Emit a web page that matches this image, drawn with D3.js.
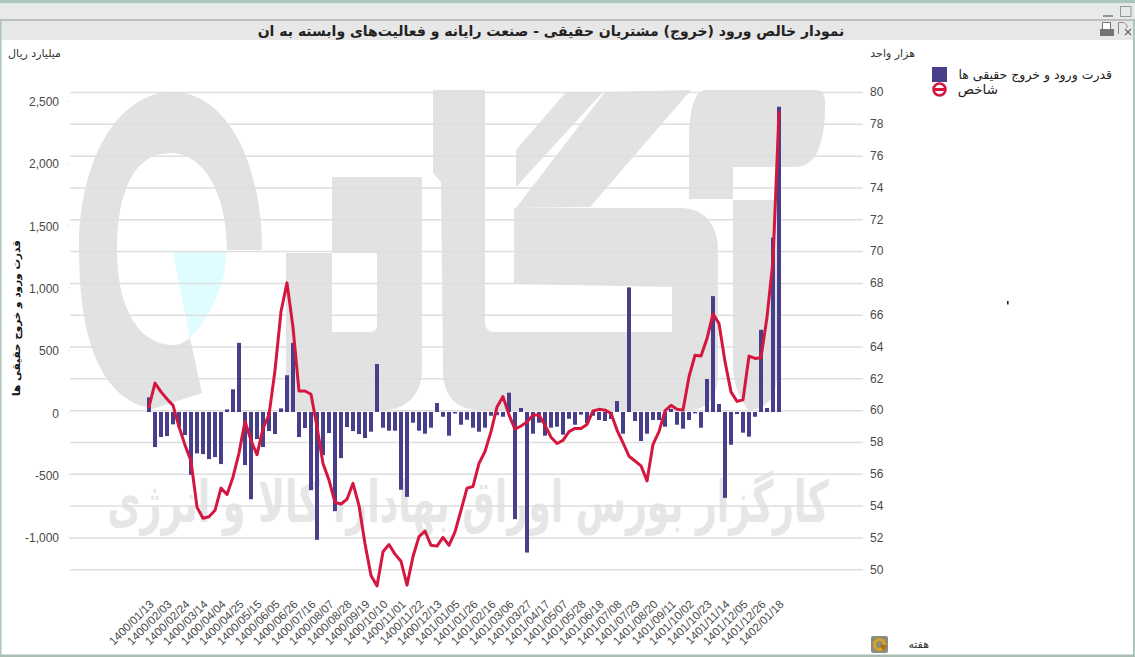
<!DOCTYPE html>
<html lang="fa">
<head>
<meta charset="utf-8">
<title>نمودار خالص ورود (خروج) مشتریان حقیقی</title>
<script src="https://cdnjs.cloudflare.com/ajax/libs/d3/7.8.5/d3.min.js"></script>
<style>
  html, body { margin: 0; padding: 0; background: #fff; overflow: hidden; }
  svg { display: block; }
  text { font-family: "DejaVu Sans", sans-serif; }
  .tick text { font-family: "Liberation Sans", sans-serif; fill: #4a4a4a; }
</style>
</head>
<body>
<svg id="chart" width="1135" height="657"></svg>
<script>
// Tick labels along the week axis, one for every third week
const weekLabels = [
  "1400/01/13","1400/02/03","1400/02/24","1400/03/14","1400/04/04","1400/04/25",
  "1400/05/15","1400/06/05","1400/06/26","1400/07/16","1400/08/07","1400/08/28",
  "1400/09/19","1400/10/10","1400/11/01","1400/11/22","1400/12/13","1401/01/05",
  "1401/01/26","1401/02/16","1401/03/06","1401/03/27","1401/04/17","1401/05/07",
  "1401/05/28","1401/06/18","1401/07/08","1401/07/29","1401/08/20","1401/09/11",
  "1401/10/02","1401/10/23","1401/11/14","1401/12/05","1401/12/26","1402/01/18"
];

// Weekly net inflow of individual investors, billion rials
const netFlow = [
  118,-281,-201,-193,-99,-120,-185,-504,-332,-338,-378,-362,-418,21,182,555,-426,-700,
  -217,-281,-153,-177,29,295,555,-201,-129,-627,-1026,-346,-169,-796,-370,-121,-153,-177,
  -209,-158,385,-126,-150,-150,-624,-681,-86,-150,-174,-126,72,-38,-190,-12,-102,-62,
  -126,-158,-126,-30,-25,-38,155,-860,32,-1128,-174,-86,-190,-126,-118,-182,-54,-102,
  -21,-90,-30,-64,-72,-56,88,-174,1000,-72,-233,-174,-64,-64,-118,25,-102,-134,
  -64,-11,-126,265,930,64,-689,-263,-16,-166,-198,-38,660,32,1400,2450
];

// Weekly index level, thousand units
const indexLevel = [
  60.2,61.7,61.15,60.7,60.3,58.95,57.8,56.8,53.9,53.2,53.3,53.7,55.1,54.7,55.8,57.3,59.3,58.1,
  57.2,58.85,59.7,62.5,66.2,68,65.2,61.2,61.2,61,58.95,56.65,55.6,54.2,54.1,54.4,55.4,54,
  51.6,49.6,48.95,51.1,51.55,50.95,50.5,49,50.8,52.05,52.4,51.5,51.45,52,51.5,52.35,53.7,55.1,
  55.2,56.65,57.4,58.65,60.2,60.85,59.7,58.8,59,59.25,59.7,59.7,59.05,58.3,57.9,58.1,58.65,58.85,
  58.85,59.1,59.95,60.05,60,59.8,58.75,57.95,57.1,56.8,56.5,55.55,57.85,58.65,59.95,60.3,
  60.05,60,62.1,63.45,63.4,64.5,66.05,65.45,63.05,61.15,60.55,60.65,63.4,63.25,63.3,65.85,69.4,78.75
];

// Axis tick values
const flowTicks = [-1000,-500,0,500,1000,1500,2000,2500];
const indexTicks = [50,52,54,56,58,60,62,64,66,68,70,72,74,76,78,80];

// Texts
const chartTitle = "نمودار خالص ورود (خروج) مشتریان حقیقی - صنعت رایانه و فعالیت‌های وابسته به ان";
const flowName = "قدرت ورود و خروج حقیقی ها";
const indexName = "شاخص";
const flowUnit = "میلیارد ریال";
const indexUnit = "هزار واحد";
const xName = "هفته";
const brandLine = "کارگزار بورس اوراق بهادار، کالا و انرژی";

const BAR_COLOR = "#473e8c";
const LINE_COLOR = "#d5173f";
const MARK_GREY = "#e2e2e2";

const svg = d3.select("#chart");

// Panel frame and header bands
const frame = svg.append("g");
frame.append("rect").attr("x",0).attr("y",0).attr("width",1135).attr("height",3.5).attr("fill","#adc6bb");
frame.append("rect").attr("x",0).attr("y",3.5).attr("width",1135).attr("height",15.5).attr("fill","#e8eae8");
frame.append("rect").attr("x",0).attr("y",19).attr("width",1135).attr("height",2).attr("fill","#bcbfbc");
frame.append("rect").attr("x",1).attr("y",21).attr("width",1132).attr("height",19).attr("fill","#e7e7e7");
frame.append("rect").attr("x",0).attr("y",19).attr("width",1.5).attr("height",638).attr("fill","#adc6bb");
frame.append("rect").attr("x",1133).attr("y",19).attr("width",2).attr("height",638).attr("fill","#adc6bb");
frame.append("rect").attr("x",0).attr("y",654.5).attr("width",1135).attr("height",2.5).attr("fill","#a9bdb3");

// Faded company logo behind the plot
const logo = svg.append("g").attr("fill", MARK_GREY);
logo.append("path").attr("d","M262,250 C262,160 225,92 173,92 C115,92 79,165 79,247 C79,320 92,398 153,409 L202,393 L190,338 C182,344 178,345 173,345 C140,345 117,310 117,250 C117,190 135,153 170,153 C205,153 227,195 227,250 Z");
logo.append("path").attr("fill","#dffcff").attr("d","M173,252 L226,252 C226,280 215,310 190,338 Z");
logo.append("path").attr("fill-rule","evenodd").attr("d","M332,177 L422,177 L422,370 C422,395 405,410 384,410 L286,410 L286,253 L332,253 Z M332,253 L332,332 L370,332 C375,332 377,329 377,325 L377,253 Z");
logo.append("path").attr("d","M433,90 L485,90 L485,320 C485,328 488,332 494,332 L672,332 L672,287 L514,284 L514,208 L680,208 C705,208 718,225 718,250 L718,375 C718,395 708,410 690,410 L480,410 C455,410 443,395 443,370 L441,182 L433,173 Z");
logo.append("path").attr("d","M516,150 L566,92 L603,92 L516,187 Z");
logo.append("path").attr("d","M516,208 L605,92 L691,90 L590,207 Z");
logo.append("path").attr("d","M705,90 L815,90 C824,90 825,96 825,104 C825,130 822,167 795,167 L733,167 L733,199 L689,199 L689,140 C689,110 695,90 705,90 Z");
logo.append("path").attr("d","M733,200 L777,200 L777,375 C777,395 768,410 748,410 C738,395 733,385 733,360 Z");
logo.append("text")
  .attr("transform","translate(468,522) scale(0.857,1.35)")
  .attr("text-anchor","middle").attr("direction","rtl")
  .attr("font-size",42.4).attr("font-weight","bold").attr("fill","#e6e6e6")
  .text(brandLine);

// Scales: one week per slot, money on the left, index on the right
const x = d3.scaleLinear().domain([0, netFlow.length - 1]).range([149, 779]);
const yFlow = d3.scaleLinear().domain([-1000, 2500]).range([536.6, 100.5]);
const yIndex = d3.scaleLinear().domain([50, 80]).range([569.2, 92]);

// Horizontal grid follows the index axis
svg.append("g").attr("transform","translate(863,0)")
  .call(d3.axisLeft(yIndex).tickValues(indexTicks).tickSize(793).tickFormat(""))
  .call(g => g.select(".domain").remove())
  .call(g => g.selectAll("line").attr("stroke","#dedede").attr("stroke-width",1.5));

// Right axis labels
svg.append("g").attr("transform","translate(864,0)")
  .call(d3.axisRight(yIndex).tickValues(indexTicks).tickSize(0).tickPadding(6).tickFormat(d3.format("d")))
  .call(g => g.select(".domain").remove())
  .call(g => g.selectAll("text").attr("font-size",12));

// Left axis labels, with a plain hyphen for negatives
svg.append("g").attr("transform","translate(70,0)")
  .call(d3.axisLeft(yFlow).tickValues(flowTicks).tickSize(2).tickPadding(9)
    .tickFormat(d => d3.format(",")(d).replace("\u2212", "-")))
  .call(g => g.select(".domain").remove())
  .call(g => g.selectAll("line").attr("stroke","#e4e4e4"))
  .call(g => g.selectAll("text").attr("font-size",12).attr("dy","0.42em"));

// Week labels on a slant
svg.append("g").attr("transform","translate(0,596)")
  .call(d3.axisBottom(x)
    .tickValues(weekLabels.map((_, i) => i * 3))
    .tickSize(0)
    .tickFormat(i => weekLabels[i / 3]))
  .call(g => g.select(".domain").remove())
  .call(g => g.selectAll("text")
    .attr("font-size",11.5).attr("text-anchor","end").attr("dy",0).attr("y",0)
    .attr("transform","translate(5,9) rotate(-45)"));

// Net flow bars
svg.append("g").selectAll("rect").data(netFlow).join("rect")
  .attr("x",(d,i) => x(i) - 2)
  .attr("width",4)
  .attr("y",d => Math.min(yFlow(d), yFlow(0)))
  .attr("height",d => Math.abs(yFlow(d) - yFlow(0)))
  .attr("fill",BAR_COLOR);

// Index line
svg.append("path").datum(indexLevel)
  .attr("fill","none").attr("stroke",LINE_COLOR).attr("stroke-width",3)
  .attr("stroke-linejoin","round").attr("stroke-linecap","round")
  .attr("d",d3.line().x((d,i) => x(i)).y(d => yIndex(d)));

// Title
svg.append("text").attr("x",551).attr("y",36)
  .attr("text-anchor","middle").attr("direction","rtl")
  .attr("font-size",14).attr("font-weight","bold").attr("fill","#222")
  .text(chartTitle);

// Axis units and names
const smallText = (tx, ty, s, size) => svg.append("text")
  .attr("x",tx).attr("y",ty).attr("text-anchor","end").attr("direction","ltr")
  .attr("font-size",size).attr("fill","#333").text(s);
smallText(61,57,flowUnit,11);
smallText(915,57,indexUnit,11);
smallText(929,648,xName,11);

svg.append("text")
  .attr("transform","translate(20,318) rotate(-90)")
  .attr("text-anchor","middle")
  .attr("font-size",10.5).attr("font-weight","bold").attr("fill","#111")
  .text(flowName);

// Legend
const legend = svg.append("g");
legend.append("rect").attr("x",932).attr("y",67).attr("width",15).attr("height",15).attr("fill",BAR_COLOR);
legend.append("line").attr("x1",933).attr("x2",946).attr("y1",89.5).attr("y2",89.5)
  .attr("stroke",LINE_COLOR).attr("stroke-width",3);
legend.append("circle").attr("cx",939.5).attr("cy",89.5).attr("r",6)
  .attr("fill","none").attr("stroke",LINE_COLOR).attr("stroke-width",2.5);
legend.append("text").attr("x",1112).attr("y",79).attr("text-anchor","end")
  .attr("font-size",12.5).attr("fill","#222").text(flowName);
legend.append("text").attr("x",998).attr("y",94).attr("text-anchor","end")
  .attr("font-size",13.5).attr("fill","#222").text(indexName);

// Small speck near the legend column
svg.append("rect").attr("x",1007).attr("y",301).attr("width",1.6).attr("height",3.5).attr("fill","#222");

// Window buttons and header icons
const icons = svg.append("g");
icons.append("rect").attr("x",1103).attr("y",15).attr("width",10).attr("height",2).attr("fill","#8f9a94");
icons.append("rect").attr("x",1120.5).attr("y",6.5).attr("width",10.5).attr("height",10).attr("fill","none").attr("stroke","#8f9a94");
icons.append("rect").attr("x",1100).attr("y",29).attr("width",14).attr("height",7).attr("fill","#6f7672");
icons.append("rect").attr("x",1102.5).attr("y",22.5).attr("width",8).attr("height",7).attr("fill","#fff").attr("stroke","#777");
icons.append("path").attr("d","M1118.5,34 V22.5 H1124 L1127,25.5 V28").attr("fill","none").attr("stroke","#889");
icons.append("path").attr("d","M1125,29 L1131,35 M1131,29 L1125,35").attr("stroke","#667").attr("stroke-width",1.2);

// Refresh button next to the week axis name
const refresh = svg.append("g");
refresh.append("rect").attr("x",871).attr("y",636).attr("width",17).attr("height",17).attr("rx",2).attr("fill","#8c8c80");
refresh.append("circle").attr("cx",879.5).attr("cy",644.5).attr("r",5).attr("fill","none").attr("stroke","#d9a520").attr("stroke-width",3);
refresh.append("path").attr("d","M880,645 L887,645 L883.5,651 Z").attr("fill","#a86f10");
</script>
</body>
</html>
